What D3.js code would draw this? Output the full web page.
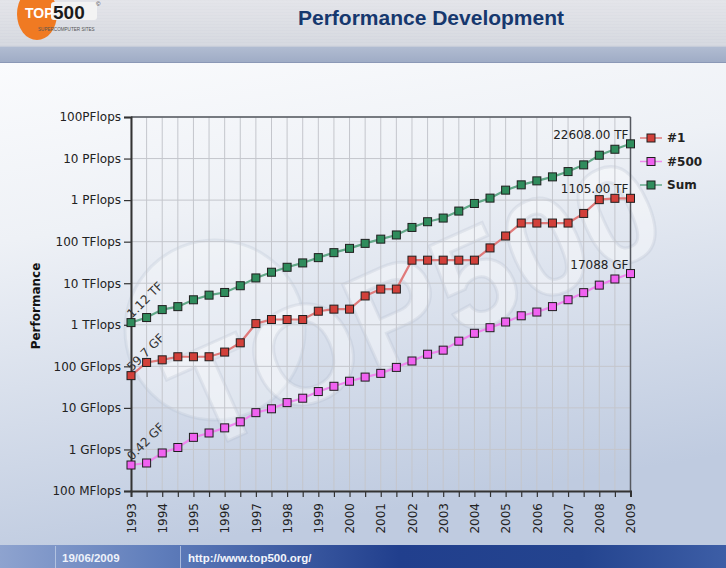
<!DOCTYPE html>
<html>
<head>
<meta charset="utf-8">
<script src="https://d3js.org/d3.v7.min.js"></script>
<style>
  html, body { margin: 0; padding: 0; background: #fff; }
  svg { display: block; }
</style>
</head>
<body>
<svg id="chart" width="726" height="568"></svg>
<script>
// ---------------- DATA ----------------
const listDates = [1993.0, 1993.5, 1994.0, 1994.5, 1995.0, 1995.5, 1996.0, 1996.5, 1997.0, 1997.5,
  1998.0, 1998.5, 1999.0, 1999.5, 2000.0, 2000.5, 2001.0, 2001.5, 2002.0, 2002.5,
  2003.0, 2003.5, 2004.0, 2004.5, 2005.0, 2005.5, 2006.0, 2006.5, 2007.0, 2007.5,
  2008.0, 2008.5, 2009.0];

// performance in GFlops
const top1GF = [59.7, 124, 143.4, 170, 170, 170, 220.4, 368.2, 1068, 1338,
  1338, 1338, 2121, 2379, 2379, 4938, 7226, 7226, 35860, 35860,
  35860, 35860, 35860, 70720, 136800, 280600, 280600, 280600, 280600, 478200,
  1026000, 1105000, 1105000];

const n500GF = [0.422, 0.472, 0.822, 1.114, 1.955, 2.489, 3.306, 4.62, 7.68, 9.51,
  13.39, 17.1, 24.73, 33.1, 43.82, 55.1, 67.78, 94.3, 134.3, 195.8,
  245.1, 403.4, 624, 850.6, 1166, 1646, 2026, 2737, 4005, 5929,
  9000, 12640, 17088];

const sumGF = [1128, 1493, 2317, 2732, 3993, 5167, 5990, 8700, 13400, 18400,
  24200, 30800, 41300, 54400, 69000, 91000, 115000, 145000, 220000, 302000,
  370000, 545000, 830000, 1117000, 1738000, 2329000, 2905000, 3624000, 4860000, 7043000,
  12030000, 16750000, 22608000];

const seriesNames = ["#1", "#500", "Sum"];
const yTickValuesGF = [0.1, 1, 10, 100, 1e3, 1e4, 1e5, 1e6, 1e7, 1e8];
const yTickLabels = ["100 MFlops", "1 GFlops", "10 GFlops", "100 GFlops", "1 TFlops",
  "10 TFlops", "100 TFlops", "1 PFlops", "10 PFlops", "100PFlops"];
const xYears = [1993, 1994, 1995, 1996, 1997, 1998, 1999, 2000, 2001, 2002, 2003,
  2004, 2005, 2006, 2007, 2008, 2009];
const firstLabels = ["59.7 GF", "0.42 GF", "1.12 TF"];
const lastLabels = ["1105.00 TF", "17088 GF", "22608.00 TF"];

const titleText = "Performance Development";
const yTitle = "Performance";
const footerDate = "19/06/2009";
const footerUrl = "http://www.top500.org/";

// ---------------- LAYOUT ----------------
const W = 726, H = 568;
const svg = d3.select("#chart");
const defs = svg.append("defs");
const FONT = "'DejaVu Sans', Verdana, sans-serif";
const AFONT = "'Liberation Sans', Arial, sans-serif";

// gradients
const gHead = defs.append("linearGradient").attr("id", "gHead").attr("x1", 0).attr("y1", 0).attr("x2", 0).attr("y2", 1);
gHead.append("stop").attr("offset", "0%").attr("stop-color", "#e2e3e8");
gHead.append("stop").attr("offset", "100%").attr("stop-color", "#d3d6de");

const gBand = defs.append("linearGradient").attr("id", "gBand").attr("x1", 0).attr("y1", 0).attr("x2", 0).attr("y2", 1);
gBand.append("stop").attr("offset", "0%").attr("stop-color", "#b2bdd2");
gBand.append("stop").attr("offset", "100%").attr("stop-color", "#9eabc5");

const gBody = defs.append("linearGradient").attr("id", "gBody").attr("x1", 0).attr("y1", 0).attr("x2", 0.25).attr("y2", 1);
gBody.append("stop").attr("offset", "0%").attr("stop-color", "#fafbfd");
gBody.append("stop").attr("offset", "35%").attr("stop-color", "#eef1f6");
gBody.append("stop").attr("offset", "100%").attr("stop-color", "#bfcbe0");

const gFoot = defs.append("linearGradient").attr("id", "gFoot").attr("x1", 0).attr("y1", 0).attr("x2", 1).attr("y2", 0);
gFoot.append("stop").attr("offset", "0%").attr("stop-color", "#8ea3cf");
gFoot.append("stop").attr("offset", "22%").attr("stop-color", "#5f7dbb");
gFoot.append("stop").attr("offset", "55%").attr("stop-color", "#213f8d");
gFoot.append("stop").attr("offset", "80%").attr("stop-color", "#24448f");
gFoot.append("stop").attr("offset", "100%").attr("stop-color", "#3d5ea6");

// background blocks
svg.append("rect").attr("x", 0).attr("y", 0).attr("width", W).attr("height", 46).attr("fill", "url(#gHead)");
for (let yy = 2; yy < 46; yy += 3) {
  svg.append("line").attr("x1", 0).attr("x2", W).attr("y1", yy).attr("y2", yy)
    .attr("stroke", "#ffffff").attr("stroke-opacity", 0.18);
}
svg.append("rect").attr("x", 0).attr("y", 46).attr("width", W).attr("height", 17).attr("fill", "url(#gBand)");
svg.append("line").attr("x1", 0).attr("x2", W).attr("y1", 46.5).attr("y2", 46.5).attr("stroke", "#c6ccd9");
svg.append("line").attr("x1", 0).attr("x2", W).attr("y1", 62.5).attr("y2", 62.5).attr("stroke", "#8b98b6");
svg.append("rect").attr("x", 0).attr("y", 63).attr("width", W).attr("height", 482).attr("fill", "url(#gBody)");

// watermark (faint logo)
const wm = svg.append("g");
wm.append("circle").attr("cx", 215).attr("cy", 330).attr("r", 90)
  .attr("fill", "#ffffff").attr("fill-opacity", 0.3)
  .attr("stroke", "#aab4c8").attr("stroke-opacity", 0.22).attr("stroke-width", 3);
wm.append("text").attr("transform", "translate(420,315) rotate(-24)")
  .attr("text-anchor", "middle").attr("dominant-baseline", "middle")
  .attr("font-family", AFONT).attr("font-weight", "bold").attr("font-size", 140)
  .attr("fill", "#ffffff").attr("fill-opacity", 0.4)
  .attr("stroke", "#a7b1c6").attr("stroke-opacity", 0.22).attr("stroke-width", 3)
  .text("TOP500");

// footer
svg.append("rect").attr("x", 0).attr("y", 545).attr("width", W).attr("height", 23).attr("fill", "url(#gFoot)");
svg.append("line").attr("x1", 55.5).attr("x2", 55.5).attr("y1", 546).attr("y2", 568).attr("stroke", "#c9d4ea").attr("stroke-opacity", 0.7);
svg.append("line").attr("x1", 180.5).attr("x2", 180.5).attr("y1", 546).attr("y2", 568).attr("stroke", "#c9d4ea").attr("stroke-opacity", 0.7);
svg.append("text").attr("x", 62).attr("y", 562).attr("font-family", AFONT).attr("font-weight", "bold")
  .attr("font-size", 11.5).attr("fill", "#eef2fa").text(footerDate);
svg.append("text").attr("x", 188).attr("y", 562).attr("font-family", AFONT).attr("font-weight", "bold")
  .attr("font-size", 11.5).attr("fill", "#f2f5fb").text(footerUrl);

// logo
const logo = svg.append("g");
logo.append("ellipse").attr("cx", 37).attr("cy", 14).attr("rx", 20).attr("ry", 26).attr("fill", "#f07a22");
logo.append("rect").attr("x", 51).attr("y", 2).attr("width", 46).attr("height", 18).attr("rx", 3).attr("fill", "#f3f3f3");
logo.append("text").attr("x", 25).attr("y", 18).attr("font-family", AFONT).attr("font-weight", "bold")
  .attr("font-size", 14).attr("fill", "#ffffff").text("TOP");
logo.append("text").attr("x", 53).attr("y", 19).attr("font-family", AFONT).attr("font-weight", "bold")
  .attr("font-size", 19).attr("fill", "#1b1b1b").text("500");
logo.append("text").attr("x", 96).attr("y", 6).attr("font-family", AFONT)
  .attr("font-size", 6).attr("fill", "#333").text("©");
logo.append("text").attr("x", 38).attr("y", 31).attr("font-family", AFONT)
  .attr("font-size", 4.6).attr("fill", "#555").text("SUPERCOMPUTER SITES");

// title
svg.append("text").attr("x", 431).attr("y", 25).attr("text-anchor", "middle")
  .attr("font-family", AFONT).attr("font-weight", "bold").attr("font-size", 21)
  .attr("fill", "#16386e").text(titleText);

// ---------------- SCALES ----------------
const x = d3.scaleLinear().domain([1993, 2009]).range([131, 630.5]);
const y = d3.scaleLog().domain([0.1, 1e8]).range([491, 117]);

const plot = svg.append("g");

// grid
plot.append("g").selectAll("line").data(listDates).join("line")
  .attr("x1", d => x(d)).attr("x2", d => x(d)).attr("y1", y(1e8)).attr("y2", y(0.1))
  .attr("stroke", "#c4c6cc").attr("stroke-width", 1);
plot.append("g").selectAll("line").data(yTickValuesGF).join("line")
  .attr("x1", x(1993)).attr("x2", x(2009)).attr("y1", d => y(d)).attr("y2", d => y(d))
  .attr("stroke", "#c4c6cc").attr("stroke-width", 1);

// frame top/right
plot.append("line").attr("x1", x(1993)).attr("x2", x(2009)).attr("y1", y(1e8)).attr("y2", y(1e8))
  .attr("stroke", "#55585f").attr("stroke-width", 1.5);
plot.append("line").attr("x1", x(2009)).attr("x2", x(2009)).attr("y1", y(1e8)).attr("y2", y(0.1))
  .attr("stroke", "#55585f").attr("stroke-width", 1.5);

// axes
const yAxis = d3.axisLeft(y).tickValues(yTickValuesGF)
  .tickFormat((d, i) => yTickLabels[i]).tickSize(7).tickPadding(3);
const gy = plot.append("g").attr("transform", `translate(${x(1993)},0)`).call(yAxis);
gy.select(".domain").attr("stroke", "#333").attr("stroke-width", 2);
gy.selectAll(".tick line").attr("stroke", "#333").attr("stroke-width", 1.2);
gy.selectAll(".tick text").attr("font-family", FONT).attr("font-size", 12).attr("fill", "#222");

const xAxis = d3.axisBottom(x).tickValues(listDates)
  .tickFormat(d => (xYears.includes(d) ? String(d) : "")).tickSize(6);
const gx = plot.append("g").attr("transform", `translate(0,${y(0.1)})`).call(xAxis);
gx.select(".domain").attr("stroke", "#333").attr("stroke-width", 2);
gx.selectAll(".tick line").attr("stroke", "#333").attr("stroke-width", 1.2);
gx.selectAll(".tick text").attr("font-family", FONT).attr("font-size", 12).attr("fill", "#222")
  .attr("text-anchor", "end").attr("transform", "rotate(-90)")
  .attr("x", -12).attr("y", 0).attr("dy", "0.35em");

// y title
svg.append("text").attr("transform", "translate(40,306) rotate(-90)").attr("text-anchor", "middle")
  .attr("font-family", FONT).attr("font-weight", "bold").attr("font-size", 12).attr("fill", "#111")
  .text(yTitle);

// ---------------- SERIES ----------------
const series = [
  { name: seriesNames[0], values: top1GF, line: "#e07a7a", fill: "#d2403a" },
  { name: seriesNames[1], values: n500GF, line: "#ee88ee", fill: "#f062f0" },
  { name: seriesNames[2], values: sumGF, line: "#62a888", fill: "#2f8c5c" }
];

const lineGen = d3.line().x(d => x(d[0])).y(d => y(d[1]));
series.forEach((s, si) => {
  const pts = listDates.map((d, i) => [d, s.values[i]]);
  const g = plot.append("g");
  g.append("path").datum(pts).attr("d", lineGen).attr("fill", "none")
    .attr("stroke", s.line).attr("stroke-width", 2.2);
  g.selectAll("rect").data(pts).join("rect")
    .attr("x", d => x(d[0]) - 4).attr("y", d => y(d[1]) - 4)
    .attr("width", 8).attr("height", 8)
    .attr("fill", s.fill).attr("stroke", "#1e1e1e").attr("stroke-width", 1);

  // first label (rotated)
  const p0 = pts[0];
  plot.append("text")
    .attr("transform", `translate(${x(p0[0]) + 1},${y(p0[1]) - 4}) rotate(-45)`)
    .attr("font-family", FONT).attr("font-size", 12).attr("fill", "#333")
    .text(firstLabels[si]);
  // last label
  const pn = pts[pts.length - 1];
  plot.append("text").attr("x", x(pn[0]) - 2).attr("y", y(pn[1]) - 5)
    .attr("text-anchor", "end").attr("font-family", FONT).attr("font-size", 12).attr("fill", "#222")
    .text(lastLabels[si]);
});

// ---------------- LEGEND ----------------
const legendRows = [138, 161.5, 185];
series.forEach((s, i) => {
  const g = svg.append("g").attr("transform", `translate(640,${legendRows[i]})`);
  g.append("line").attr("x1", 0).attr("x2", 22).attr("y1", 0).attr("y2", 0)
    .attr("stroke", s.line).attr("stroke-width", 1.5);
  g.append("rect").attr("x", 7).attr("y", -4).attr("width", 8).attr("height", 8)
    .attr("fill", s.fill).attr("stroke", "#1e1e1e").attr("stroke-width", 1);
  g.append("text").attr("x", 27).attr("y", 0).attr("dy", "0.35em")
    .attr("font-family", FONT).attr("font-weight", "bold").attr("font-size", 12).attr("fill", "#222")
    .text(s.name);
});
</script>
</body>
</html>
